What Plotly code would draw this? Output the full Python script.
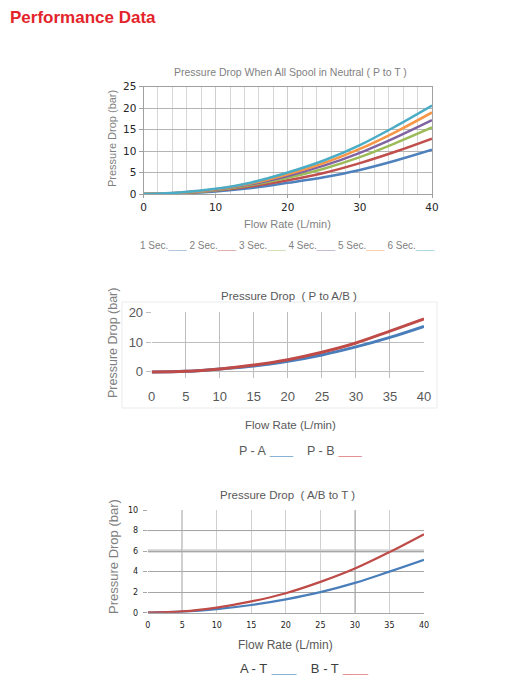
import plotly.graph_objects as go

W, H = 519, 690

# ---------------- data ----------------
flow = [0, 5, 10, 15, 20, 25, 30, 35, 40]

neutral_names = ["1 Sec.", "2 Sec.", "3 Sec.", "4 Sec.", "5 Sec.", "6 Sec."]
neutral_colors = ["#4F81BD", "#C0504D", "#9BBB59", "#8064A2", "#F79646", "#4BACC6"]
sec1 = [0, 0.15, 0.6, 1.4, 2.6, 3.9, 5.6, 7.8, 10.3]
sec2 = [0, 0.2, 0.8, 1.8, 3.2, 4.9, 7.2, 9.9, 12.9]
sec3 = [0, 0.25, 0.9, 2.1, 3.8, 5.9, 8.6, 11.9, 15.5]
sec4 = [0, 0.3, 1.0, 2.3, 4.2, 6.6, 9.6, 13.2, 17.2]
sec5 = [0, 0.3, 1.1, 2.5, 4.6, 7.2, 10.5, 14.5, 19.0]
sec6 = [0, 0.35, 1.2, 2.7, 5.0, 7.8, 11.4, 15.8, 20.6]
neutral_series = [sec1, sec2, sec3, sec4, sec5, sec6]

pab_names = ["P - A", "P - B"]
pab_colors = ["#2E75B6", "#D0403C"]
p_a = [0, 0.2, 1.0, 2.0, 3.6, 5.7, 8.4, 11.6, 15.3]
p_b = [0, 0.2, 1.0, 2.3, 4.1, 6.6, 9.7, 13.7, 17.8]
pab_line_colors = ["#4A7EBB", "#BE4B48"]

abt_names = ["A - T", "B - T"]
abt_colors = ["#2E75B6", "#D0403C"]
a_t = [0, 0.1, 0.35, 0.75, 1.3, 2.0, 2.9, 4.0, 5.15]
b_t = [0, 0.12, 0.5, 1.1, 1.9, 3.0, 4.3, 5.9, 7.65]
abt_line_colors = ["#4A7EBB", "#BE4B48"]

ticks1_x = [0, 10, 20, 30, 40]
ticks1_y = [0, 5, 10, 15, 20, 25]
ticks2_x = [0, 5, 10, 15, 20, 25, 30, 35, 40]
ticks2_y = [0, 10, 20]
ticks3_x = [0, 5, 10, 15, 20, 25, 30, 35, 40]
ticks3_y = [0, 2, 4, 6, 8, 10]
dark_grid3_x = [5, 30]
dark_grid3_y = [8]
band_grid3_y = [6]

# -------------- helpers --------------
OFF = 8  # page body margin offset


def px_x(p):
    return (p - OFF) / W


def px_y(p):
    return 1 - (p - OFF) / H


FONT = "Liberation Sans, Arial, sans-serif"
GRAY = "#7F7F7F"

fig = go.Figure()

for name, col, ys in zip(neutral_names, neutral_colors, neutral_series):
    fig.add_trace(go.Scatter(x=flow, y=ys, mode="lines", name=name,
                             line=dict(color=col, width=2.5, shape="spline"),
                             xaxis="x", yaxis="y", showlegend=False))
for name, col, ys in zip(pab_names, pab_line_colors, [p_a, p_b]):
    fig.add_trace(go.Scatter(x=flow, y=ys, mode="lines", name=name,
                             line=dict(color=col, width=3, shape="spline"),
                             xaxis="x2", yaxis="y2", showlegend=False))
for name, col, ys in zip(abt_names, abt_line_colors, [a_t, b_t]):
    fig.add_trace(go.Scatter(x=flow, y=ys, mode="lines", name=name,
                             line=dict(color=col, width=2.2, shape="spline"),
                             xaxis="x3", yaxis="y3", showlegend=False))

layout = dict(
    template="none",
    width=W, height=H, margin=dict(l=0, r=0, t=0, b=0, pad=0, autoexpand=False),
    showlegend=False,
    paper_bgcolor="white", plot_bgcolor="white",
    font=dict(family=FONT, color=GRAY),
    # chart 1
    xaxis=dict(domain=[px_x(143.5), px_x(432)], range=[0, 40], tickvals=ticks1_x,
               showgrid=True, gridcolor="#CFCFCF", gridwidth=1,
               minor=dict(dtick=2, showgrid=True, gridcolor="#D6D6D6", ticks=""),
               showline=True, linecolor="#A0A0A0", mirror=True, zeroline=False,
               ticks="outside", ticklen=3, tickcolor="#A0A0A0",
               tickfont=dict(size=10.5, color="#262626", family="DejaVu Sans"),
               anchor="y", automargin=False),
    yaxis=dict(domain=[px_y(194), px_y(86.7)], range=[0, 25], tickvals=ticks1_y,
               showgrid=True, gridcolor="#B4B4B4", gridwidth=1,
               showline=True, linecolor="#A0A0A0", mirror=True, zeroline=False,
               ticks="outside", ticklen=4, tickcolor="#A0A0A0",
               tickfont=dict(size=10.5, color="#262626", family="DejaVu Sans"),
               anchor="x", automargin=False),
    # chart 2
    xaxis2=dict(domain=[px_x(151.7), px_x(424)], range=[0, 40], tickvals=ticks2_x,
                showgrid=True, gridcolor="#BDBDBD", showline=False, zeroline=False,
                ticks="", ticklabelstandoff=9, tickfont=dict(size=13, color="#595959"),
                anchor="y2", automargin=False),
    yaxis2=dict(domain=[px_y(377.6), px_y(312.3)], range=[-1.9, 20], tickvals=ticks2_y,
                showgrid=True, gridcolor="#BDBDBD", showline=False, zeroline=False,
                ticks="outside", ticklen=5, tickcolor="#BDBDBD",
                tickfont=dict(size=13, color="#595959"),
                anchor="x2", automargin=False),
    # chart 3
    xaxis3=dict(domain=[px_x(147.7), px_x(424)], range=[0, 40], tickvals=ticks3_x,
                showgrid=True, gridcolor="#D0D0D0", showline=True, linecolor="#A6A6A6",
                zeroline=False, ticks="", ticklabelstandoff=5,
                tickfont=dict(size=8, color="#1A1A1A", family="DejaVu Sans"),
                anchor="y3", automargin=False),
    yaxis3=dict(domain=[px_y(612.7), px_y(510)], range=[0, 10], tickvals=ticks3_y,
                showgrid=True, gridcolor="#A6A6A6", showline=False, zeroline=False,
                ticks="outside", ticklen=4, tickcolor="#A6A6A6", ticklabelstandoff=3,
                tickfont=dict(size=8, color="#1A1A1A", family="DejaVu Sans"),
                anchor="x3", automargin=False),
)
fig.update_layout(**layout)

shapes = []
# outer faint frame for chart 2
shapes.append(dict(type="rect", xref="paper", yref="paper",
                   x0=px_x(122), x1=px_x(437), y0=px_y(408), y1=px_y(302),
                   line=dict(color="#EBEBEB", width=1), fillcolor="rgba(0,0,0,0)", layer="below"))
# chart 3 special grid lines
for v in band_grid3_y:
    shapes.append(dict(type="line", xref="x3 domain", yref="y3", x0=0, x1=1, y0=v, y1=v,
                       line=dict(color="#D3D3D3", width=3.5), layer="below"))
for v in dark_grid3_y:
    shapes.append(dict(type="line", xref="x3 domain", yref="y3", x0=0, x1=1, y0=v, y1=v,
                       line=dict(color="#6E6E6E", width=1), layer="below"))
for v in dark_grid3_x:
    shapes.append(dict(type="line", xref="x3", yref="y3 domain", x0=v, x1=v, y0=0, y1=1,
                       line=dict(color="#8C8C8C", width=1.3), layer="below"))
fig.update_layout(shapes=shapes)


def legend_text(names, colors, bar="___", gap="&nbsp;&nbsp;", bar_size=None):
    parts = []
    for n, c in zip(names, colors):
        style = f"color:{c}"
        if bar_size:
            style += f";font-size:{bar_size}px"
        parts.append(f"{n}<span style='{style}'><b>{bar}</b></span>")
    return gap.join(parts)


def label(text, x, y, size, color=GRAY, angle=0, family=None, xanchor="center"):
    f = dict(size=size, color=color)
    if family:
        f["family"] = family
    return dict(text=text, x=px_x(x), y=px_y(y), xref="paper", yref="paper",
                xanchor=xanchor, yanchor="middle", textangle=angle, showarrow=False,
                font=f, borderpad=0)


ann = [
    label("<b>Performance Data</b>", 9, 18, 17, color="#E3242B", xanchor="left"),
    # chart 1
    label("Pressure Drop When All Spool in Neutral ( P to T )", 290, 72, 10.5),
    label("Pressure Drop (bar)", 112, 139, 11, angle=-90),
    label("Flow Rate (L/min)", 287, 224, 11),
    label(legend_text(neutral_names, neutral_colors, gap=" ", bar_size=11), 287, 245, 10),
    # chart 2
    label("Pressure Drop&nbsp;&nbsp;( P to A/B )", 289, 296, 11.5, color="#595959"),
    label("Pressure Drop (bar)", 113, 343, 12.5, angle=-90),
    label("Flow Rate (L/min)", 290, 425, 11.5, color="#595959"),
    label(legend_text(pab_names, pab_colors, bar="&nbsp;___", gap="&nbsp;&nbsp;&nbsp;&nbsp;", bar_size=14),
          300, 450, 12.5, color="#595959"),
    # chart 3
    label("Pressure Drop&nbsp;&nbsp;( A/B to T )", 287, 495, 11.5, color="#595959"),
    label("Pressure Drop (bar)", 113, 557, 13, angle=-90),
    label("Flow Rate (L/min)", 285, 645, 12, color="#595959"),
    label(legend_text(abt_names, abt_colors, bar="&nbsp;___", gap="&nbsp;&nbsp;&nbsp;&nbsp;", bar_size=15),
          304, 667, 13, color="#404040"),
]
fig.update_layout(annotations=ann)

fig.write_html("out.html")
